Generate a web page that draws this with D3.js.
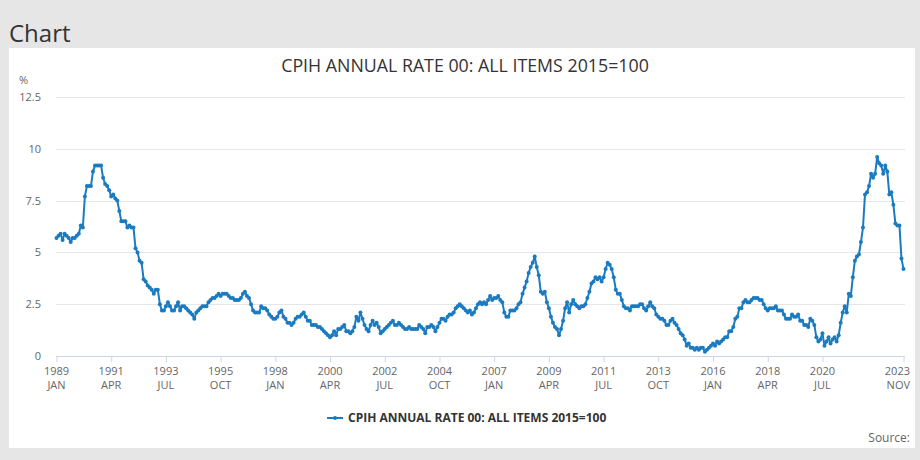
<!DOCTYPE html>
<html><head><meta charset="utf-8">
<script src="https://cdn.jsdelivr.net/npm/d3@7"></script>
<style>body{margin:0;background:#e6e6e6;font-family:"Open Sans",sans-serif}svg{display:block}</style>
</head><body><svg id="c" width="920" height="460"></svg>
<script>
const seriesName = "CPIH ANNUAL RATE 00: ALL ITEMS 2015=100";
const months = ["JAN","FEB","MAR","APR","MAY","JUN","JUL","AUG","SEP","OCT","NOV","DEC"];
const firstYear = 1989;
const v1989=[5.7,5.8,5.9,5.6,5.9,5.8,5.7,5.5,5.7,5.7,5.8,5.9];
const v1990=[6.3,6.2,7.7,8.2,8.2,8.2,8.9,9.2,9.2,9.2,9.2,8.6];
const v1991=[8.3,8.2,8.0,7.7,7.8,7.6,7.5,7.0,6.5,6.5,6.5,6.2];
const v1992=[6.3,6.2,6.2,5.2,5.0,4.6,4.5,3.7,3.6,3.4,3.3,3.2];
const v1993=[3.0,3.2,3.2,2.5,2.2,2.2,2.4,2.6,2.4,2.2,2.2,2.4];
const v1994=[2.6,2.2,2.4,2.4,2.3,2.2,2.1,2.0,1.8,2.1,2.2,2.3];
const v1995=[2.4,2.4,2.4,2.6,2.7,2.8,2.8,2.9,3.0,2.9,3.0,3.0];
const v1996=[3.0,2.9,2.8,2.8,2.7,2.7,2.7,2.8,3.0,3.1,2.9,2.8];
const v1997=[2.5,2.2,2.1,2.1,2.1,2.4,2.3,2.3,2.2,2.0,1.9,1.8];
const v1998=[1.8,1.9,2.1,2.2,1.9,1.8,1.6,1.6,1.5,1.6,1.8,1.9];
const v1999=[1.9,2.0,2.1,1.9,1.7,1.7,1.5,1.5,1.5,1.4,1.4,1.3];
const v2000=[1.2,1.1,1.0,0.9,1.0,1.2,1.0,1.3,1.3,1.4,1.5,1.2];
const v2001=[1.2,1.1,1.2,1.4,1.9,1.7,2.1,1.8,1.5,1.3,1.2,1.5];
const v2002=[1.7,1.5,1.6,1.4,1.1,1.2,1.3,1.4,1.5,1.6,1.7,1.5];
const v2003=[1.5,1.6,1.5,1.4,1.3,1.3,1.4,1.3,1.3,1.3,1.3,1.5];
const v2004=[1.4,1.3,1.1,1.4,1.4,1.5,1.4,1.2,1.4,1.6,1.8,1.8];
const v2005=[1.7,1.9,2.0,2.0,2.1,2.3,2.4,2.5,2.4,2.3,2.2,2.1];
const v2006=[2.2,2.0,2.1,2.3,2.5,2.6,2.5,2.6,2.5,2.7,2.9,2.7];
const v2007=[2.8,2.8,2.9,2.7,2.6,2.1,1.9,1.9,2.2,2.2,2.2,2.3];
const v2008=[2.5,2.6,3.0,3.3,3.6,4.0,4.3,4.5,4.8,4.3,3.9,3.1];
const v2009=[3.0,3.1,2.6,2.3,1.9,1.6,1.4,1.3,1.0,1.3,1.7,2.3];
const v2010=[2.6,2.1,2.5,2.7,2.5,2.4,2.3,2.4,2.4,2.5,2.8,3.1];
const v2011=[3.5,3.6,3.8,3.7,3.8,3.6,3.8,4.2,4.5,4.4,4.2,3.8];
const v2012=[3.2,3.0,3.0,2.7,2.4,2.3,2.3,2.2,2.4,2.4,2.4,2.4];
const v2013=[2.5,2.5,2.3,2.2,2.4,2.6,2.4,2.3,2.0,1.9,1.8,1.8];
const v2014=[1.7,1.5,1.5,1.7,1.8,1.6,1.5,1.3,1.1,1.0,0.8,0.5];
const v2015=[0.6,0.4,0.4,0.3,0.4,0.3,0.4,0.4,0.2,0.3,0.4,0.5];
const v2016=[0.6,0.5,0.7,0.6,0.7,0.8,0.9,0.9,1.2,1.2,1.4,1.8];
const v2017=[1.9,2.3,2.3,2.6,2.7,2.6,2.6,2.7,2.8,2.8,2.8,2.7];
const v2018=[2.7,2.5,2.3,2.2,2.3,2.3,2.3,2.4,2.2,2.2,2.2,2.0];
const v2019=[1.8,1.8,1.8,2.0,1.9,1.9,2.0,1.7,1.7,1.5,1.5,1.4];
const v2020=[1.8,1.7,1.5,0.9,0.7,0.8,1.1,0.5,0.7,0.9,0.6,0.8];
const v2021=[0.9,0.7,1.0,1.6,2.1,2.4,2.1,3.0,2.9,3.8,4.6,4.8];
const v2022=[4.9,5.5,6.2,7.8,7.9,8.2,8.8,8.6,8.8,9.6,9.3,9.2];
const v2023=[8.8,9.2,8.9,7.8,7.9,7.3,6.4,6.3,6.3,4.7,4.2];
const yTicks=[0,2.5,5,7.5,10,12.5];
const tickStep=27;

const values=[].concat(v1989,v1990,v1991,v1992,v1993,v1994,v1995,v1996,v1997,v1998,v1999,v2000,v2001,v2002,v2003,v2004,v2005,v2006,v2007,v2008,v2009,v2010,v2011,v2012,v2013,v2014,v2015,v2016,v2017,v2018,v2019,v2020,v2021,v2022,v2023);
const data=values.map((v,i)=>({i,v}));
const last=values.length-1;

const svg=d3.select("#c");
const color="#1a7bc0";
svg.append("rect").attr("x",9).attr("y",48).attr("width",906).attr("height",400).attr("fill","#fff");
svg.append("text").attr("x",9).attr("y",42).attr("font-size",24).attr("fill","#333").text("Chart");
svg.append("text").attr("x",465).attr("y",72).attr("text-anchor","middle").attr("font-size",17.8).attr("fill","#333").text(seriesName);

const x=d3.scaleLinear().domain([0,last]).range([56.5,903.5]);
const y=d3.scaleLinear().domain([0,12.5]).range([356,97]);

const g=svg.append("g");
g.selectAll("line.grid").data(yTicks.filter(d=>d>0)).join("line")
 .attr("x1",56).attr("x2",905).attr("y1",d=>Math.round(y(d))+0.5).attr("y2",d=>Math.round(y(d))+0.5)
 .attr("stroke","#e6e6e6").attr("stroke-width",1);
g.selectAll("text.yl").data(yTicks).join("text")
 .attr("x",41).attr("y",d=>y(d)+4).attr("text-anchor","end").attr("font-size",11).attr("fill","#666")
 .text(d=>d);
svg.append("text").attr("x",19).attr("y",84).attr("font-size",11).attr("fill","#666").text("%");

const tickIdx=d3.range(0,last-20,tickStep).concat([last]);
const xAxis=d3.axisBottom(x).tickValues(tickIdx).tickSize(6).tickFormat("");
const ax=svg.append("g").attr("transform","translate(0,356)").call(xAxis);
ax.select(".domain").attr("stroke","#ccd6eb").attr("d","M56,0.5H905");
ax.selectAll(".tick line").attr("stroke","#ccd6eb");
const lab=svg.append("g");
tickIdx.forEach(i=>{
  const yr=firstYear+Math.floor(i/12), mo=months[i%12];
  const isLast=i===last;
  const tx=isLast?910:x(i);
  const t=lab.append("text").attr("text-anchor",isLast?"end":"middle").attr("font-size",11).attr("fill","#666");
  t.append("tspan").attr("x",tx).attr("y",375).text(yr);
  t.append("tspan").attr("x",tx).attr("y",389).text(mo);
});

const line=d3.line().x(d=>x(d.i)).y(d=>y(d.v));
svg.append("path").datum(data).attr("d",line).attr("fill","none").attr("stroke",color).attr("stroke-width",2).attr("stroke-linejoin","round");
svg.append("g").selectAll("circle").data(data).join("circle")
 .attr("cx",d=>x(d.i)).attr("cy",d=>y(d.v)).attr("r",2).attr("fill",color);

const lg=svg.append("g");
lg.append("line").attr("x1",327).attr("x2",343).attr("y1",418).attr("y2",418).attr("stroke",color).attr("stroke-width",2);
lg.append("circle").attr("cx",335).attr("cy",418).attr("r",2).attr("fill",color);
lg.append("text").attr("x",348).attr("y",422).attr("font-size",12).attr("font-weight","bold").attr("fill","#333").text(seriesName);
svg.append("text").attr("x",910).attr("y",442).attr("text-anchor","end").attr("font-size",12).attr("fill","#666").text("Source:");
</script></body></html>
